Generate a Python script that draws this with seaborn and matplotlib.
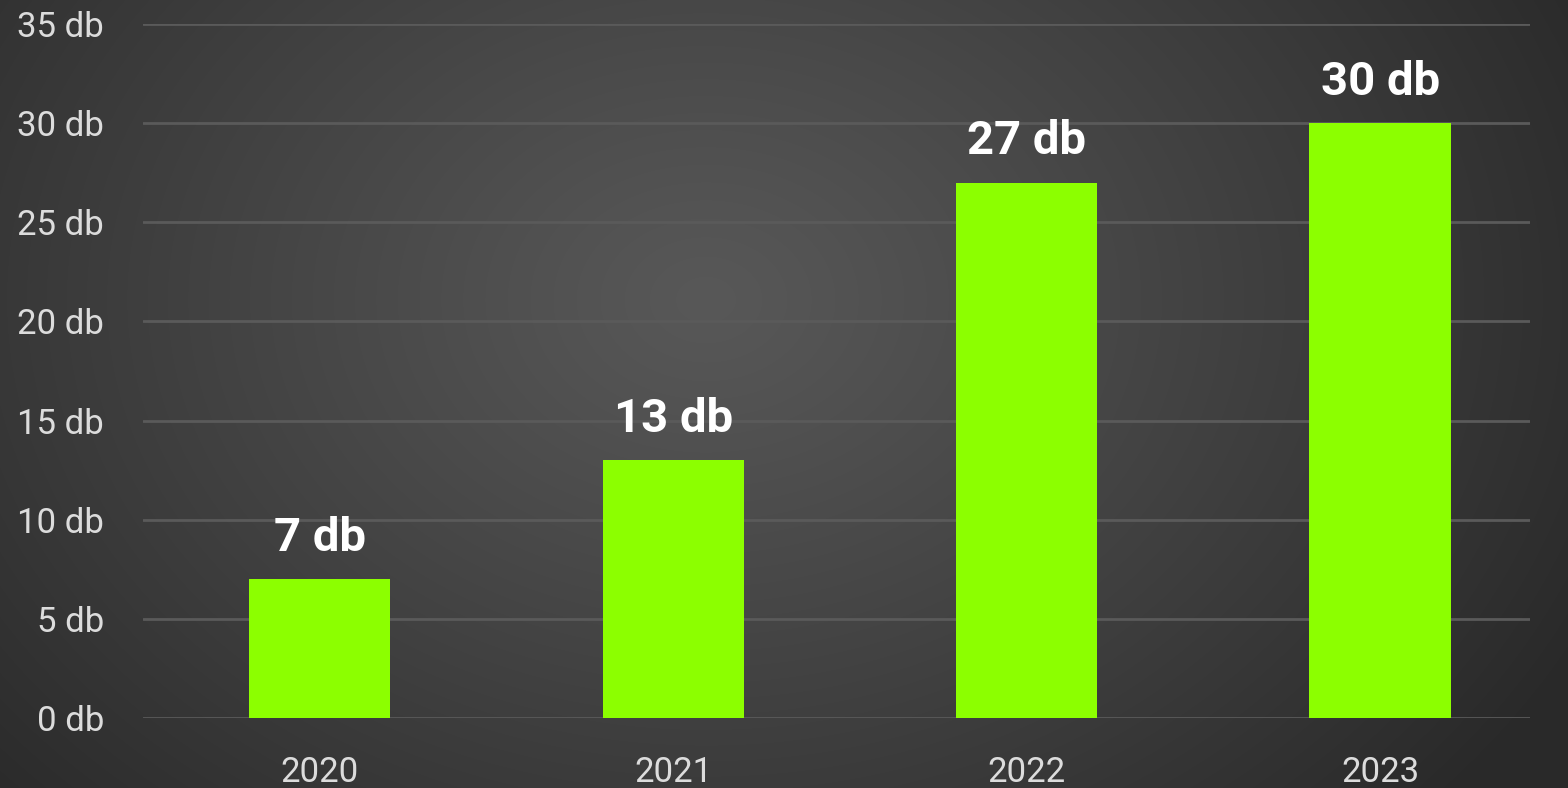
import numpy as np
import pandas as pd
import matplotlib
matplotlib.use("Agg")
import matplotlib.pyplot as plt
import seaborn as sns

years = ["2020", "2021", "2022", "2023"]
values = [7, 13, 27, 30]
yticks = [0, 5, 10, 15, 20, 25, 30, 35]
unit = "db"

sns.set_theme(style="dark")
plt.rcParams['font.family'] = ['Roboto', 'DejaVu Sans']

W, H = 1568, 788
fig = plt.figure(figsize=(W / 100, H / 100), dpi=100)

# radial gradient background
bg = fig.add_axes([0, 0, 1, 1], zorder=-10)
yy, xx = np.mgrid[0:H, 0:W]
cx, cy = W * 0.45, H * 0.38
r = np.sqrt(((xx - cx) / (W * 0.62)) ** 2 + ((yy - cy) / (H * 0.95)) ** 2)
r = np.clip(r, 0, 1)
c0, c1 = 0x58 / 255, 0x2a / 255
img = c0 + (c1 - c0) * r ** 1.1
bg.imshow(np.dstack([img, img, img]), aspect="auto", extent=[0, 1, 0, 1])
bg.axis("off")

ax = fig.add_axes([143 / W, (H - 718) / H, (1530 - 143) / W, (718 - 24) / H])
ax.patch.set_alpha(0)

df = pd.DataFrame({"year": years, "value": values})
sns.barplot(data=df, x="year", y="value", color="#8CFF00", width=0.4,
            saturation=1, linewidth=0, edgecolor="none", ax=ax, zorder=3)

ax.set_ylim(0, 35)
ax.set_xlim(-0.5, 3.424)
ax.set_yticks(yticks)
ax.set_yticklabels([f"{t} {unit}" for t in yticks])
ax.yaxis.grid(True, color="#5a5a5a", linewidth=2.0, zorder=0)
ax.xaxis.grid(False)
ax.set_axisbelow(True)
for s in ax.spines.values():
    s.set_visible(False)
ax.set_xlabel("")
ax.set_ylabel("")
ax.tick_params(axis="y", colors="#dcdcdc", labelsize=25, pad=28, length=0)
ax.tick_params(axis="x", colors="#dcdcdc", labelsize=25, pad=27, length=0)

for i, v in enumerate(values):
    ax.annotate(f"{v} {unit}", (i, v), xytext=(0, 14), textcoords="offset points",
                ha="center", va="bottom", color="white", fontsize=34,
                fontweight="bold")

fig.savefig("out.png", dpi=100)
